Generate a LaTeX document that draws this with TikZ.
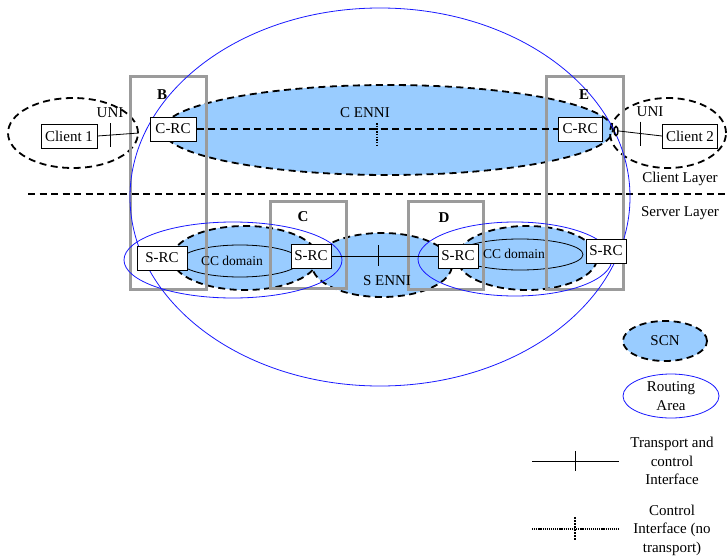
\documentclass[tikz,border=0pt]{standalone}
\usepackage{fontspec}
\setmainfont{Liberation Serif}
\usetikzlibrary{shapes.geometric}
\definecolor{scnblue}{RGB}{153,204,255}
\definecolor{rablue}{RGB}{25,25,255}
\definecolor{boxgray}{RGB}{155,155,155}
\begin{document}
\begin{tikzpicture}[x=1pt,y=-1pt, font=\fontsize{15}{18.5}\selectfont,
  scn/.style={ellipse, draw, fill=scnblue, line width=1.8pt, dash pattern=on 7pt off 4.5pt, inner sep=0pt},
  cl/.style={ellipse, draw, line width=1.8pt, dash pattern=on 7pt off 4.5pt, inner sep=0pt},
  ra/.style={ellipse, draw=rablue, line width=0.8pt, inner sep=0pt},
  dom/.style={ellipse, draw, line width=0.8pt, inner sep=0pt},
  nebox/.style={rectangle, draw=boxgray, line width=3pt, inner sep=0pt},
  rc/.style={rectangle, draw, fill=white, line width=1pt, inner xsep=1pt, inner ysep=0pt, minimum height=24pt},
  lbl/.style={font=\fontsize{15}{17}\selectfont\bfseries},
  dashln/.style={line width=1.8pt, dash pattern=on 7pt off 4.5pt},
  dotln/.style={line width=1.8pt, dash pattern=on 1.5pt off 1.2pt},
  thinln/.style={line width=0.8pt},
  small/.style={font=\fontsize{13.5}{15}\selectfont},
]
\useasboundingbox (0,0) rectangle (727,559);

% client layer SCN and client ellipses
\node[scn, minimum width=450pt, minimum height=90pt] (cenni) at (388,130) {};
\node[cl, minimum width=130pt, minimum height=70pt] (cl1e) at (73,133) {};
\node[cl, minimum width=116pt, minimum height=70pt] (cl2e) at (668,133) {};

% layer separator
\coordinate (layL) at (28,194);
\coordinate (layR) at (727,194);
\draw[line width=1.2pt, dash pattern=on 7pt off 4.5pt] (layL) -- (layR);

% server layer SCNs
\node[scn, minimum width=146pt, minimum height=64pt] (scnL) at (245,258) {};
\node[scn, minimum width=140pt, minimum height=64pt] (scnR) at (527,258) {};
\node[scn, minimum width=140pt, minimum height=64pt] (scnM) at (382,265) {};

% CC domains
\node[dom, minimum width=120pt, minimum height=32pt] (domL) at (240,261) {};
\node[dom, minimum width=126pt, minimum height=31pt] (domR) at (520,254.5) {};

% network element boxes
\node[nebox, minimum width=76pt, minimum height=212pt] (boxB) at (168,183) {};
\node[nebox, minimum width=76pt, minimum height=87pt] (boxC) at (308,244.5) {};
\node[nebox, minimum width=75pt, minimum height=88pt] (boxD) at (445.5,245) {};
\node[nebox, minimum width=77pt, minimum height=212pt] (boxE) at (584.5,183) {};

% routing areas
\node[ra, minimum width=500pt, minimum height=378pt] (raBig) at (380,197) {};
\node[ra, minimum width=218pt, minimum height=76pt] (raL) at (233,260) {};
\node[ra, minimum width=194pt, minimum height=74pt] (raR) at (515,259) {};

% labels
\node[lbl] (lB) at (162,95) {B};
\node[lbl] (lC) at (303,217) {C};
\node[lbl] (lD) at (444,218) {D};
\node[lbl] (lE) at (584,95) {E};
\node (lcenni) at (365,113) {C ENNI};
\node (lsenni) at (387,281) {S ENNI};
\node (luni1) at (110,113) {UNI};
\node (luni2) at (650,112) {UNI};
\node[small] (ldomL) at (232,261) {CC domain};
\node[small] (ldomR) at (514,254) {CC domain};
\node (lcl) at (680,179) {Client Layer};
\node (lsl) at (680,213) {Server Layer};

% controllers and clients
\node[rc, minimum width=56pt] (client1) at (69,136) {Client 1};
\node[rc, minimum width=55pt] (client2) at (690,136) {Client 2};
\node[rc, minimum width=46pt] (crcB) at (173,129) {C-RC};
\node[rc, minimum width=44pt] (crcE) at (580,129) {C-RC};
\node[rc, minimum width=50pt] (srcL) at (162,258) {S-RC};
\node[rc, minimum width=40pt] (srcC) at (311,256) {S-RC};
\node[rc, minimum width=40pt] (srcD) at (458,256) {S-RC};
\node[rc, minimum width=40pt] (srcR) at (606,251) {S-RC};

% small link mark near E
\node[ellipse, draw, line width=1.5pt, minimum width=4pt, minimum height=9pt, inner sep=0pt] (mark) at (616,131) {};

% UNI interfaces
\draw[thinln] (client1.east) -- coordinate[pos=0.3] (tu1) (cl1e.east);
\draw[thinln] (tu1) ++(0,-12) -- ++(0,24);
\draw[thinln] (mark.east) -- coordinate[pos=0.5] (tu2) (client2.west);
\draw[thinln] (tu2) ++(0,-12) -- ++(0,24);

% C ENNI (control only)
\draw[dashln] (crcB.east) -- coordinate[pos=0.5] (tce) (crcE.west);
\draw[dotln] (tce) ++(0,-6) -- ++(0,23);

% S ENNI (transport and control)
\draw[thinln] (srcC.east) -- coordinate[pos=0.44] (tse) (srcD.west);
\draw[thinln] (tse) ++(0,-11) -- ++(0,21);

% legend
\node[scn, minimum width=84pt, minimum height=40pt] (legscn) at (665,341) {SCN};
\node[ra, minimum width=96pt, minimum height=44pt, align=center] (legra) at (671,396) {Routing\\Area};
\coordinate (lt1) at (532,461);
\coordinate (lt2) at (619,461);
\draw[thinln] (lt1) -- coordinate[pos=0.495] (ltt) (lt2);
\draw[thinln] (ltt) ++(0,-10) -- ++(0,20);
\node[align=center] (legtr) at (672,461) {Transport and\\control\\Interface};
\coordinate (lc1) at (532,529);
\coordinate (lc2) at (619,529);
\draw[line width=1.6pt, dash pattern=on 1.2pt off 0.9pt] (lc1) -- coordinate[pos=0.495] (lct) (lc2);
\draw[line width=1.6pt, dash pattern=on 1.5pt off 1.5pt] (lct) ++(0,-12) -- ++(0,23);
\node[align=center] (legct) at (672,530) {Control\\Interface (no\\transport)};
\end{tikzpicture}
\end{document}
